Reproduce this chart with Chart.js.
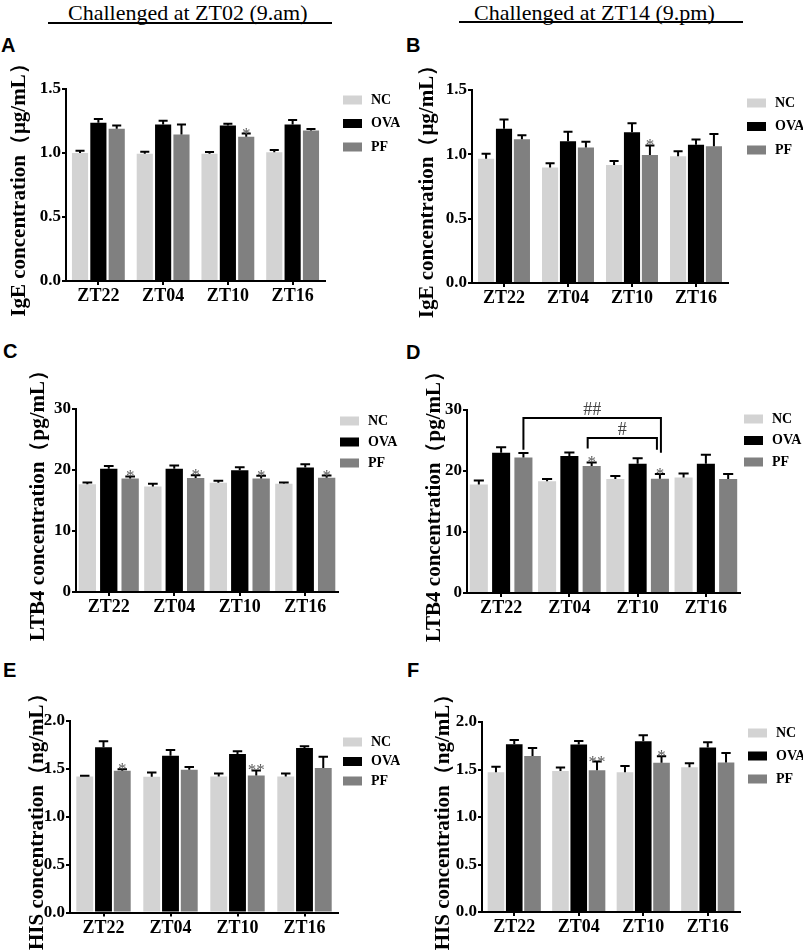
<!DOCTYPE html>
<html>
<head>
<meta charset="utf-8">
<script src="https://cdn.jsdelivr.net/npm/chart.js@4.4.0/dist/chart.umd.min.js"></script>
<style>
  body { margin: 0; background: #fff; width: 803px; height: 951px; position: relative; overflow: hidden; }
  .hd { position: absolute; top: 0; line-height: 22px; font: 22px "Liberation Serif", "Times New Roman", serif; color: #000; white-space: nowrap; }
  .rule { position: absolute; top: 22px; height: 2px; background: #000; }
  .tag { position: absolute; line-height: 20px; font: bold 20px "Liberation Sans", Arial, sans-serif; color: #000; }
  canvas { position: absolute; }
</style>
</head>
<body>
<div class="hd" style="left:68px">Challenged at ZT02 (9.am)</div>
<div class="rule" style="left:48px;width:284px"></div>
<div class="hd" style="left:474px">Challenged at ZT14 (9.pm)</div>
<div class="rule" style="left:459px;width:284px;top:21px"></div>
<div class="tag" style="left:1px;top:34px">A</div>
<div class="tag" style="left:406px;top:34px">B</div>
<div class="tag" style="left:3px;top:340px">C</div>
<div class="tag" style="left:406px;top:341px">D</div>
<div class="tag" style="left:3px;top:659px">E</div>
<div class="tag" style="left:407px;top:659px">F</div>
<script>
const timePoints = ['ZT22', 'ZT04', 'ZT10', 'ZT16'];
const groups = ['NC', 'OVA', 'PF'];
const groupColors = ['#d3d3d3', '#000000', '#808080'];

// rows: NC, OVA, PF
const igeAmMean = [[1.00, 0.995, 0.995, 1.005], [1.236, 1.222, 1.215, 1.222], [1.19, 1.144, 1.127, 1.175]];
const igeAmSem  = [[0.017, 0.015, 0.012, 0.018], [0.03, 0.03, 0.013, 0.036], [0.025, 0.078, 0.025, 0.013]];
const igeAmStars = ['', '', '*', ''];

const igePmMean = [[0.965, 0.897, 0.917, 0.985], [1.198, 1.102, 1.172, 1.074], [1.118, 1.053, 0.994, 1.063]];
const igePmSem  = [[0.04, 0.034, 0.031, 0.039], [0.072, 0.073, 0.07, 0.041], [0.03, 0.044, 0.075, 0.096]];
const igePmStars = ['', '', '*', ''];

const ltbAmMean = [[17.65, 17.3, 17.9, 17.75], [20.2, 20.2, 19.95, 20.4], [18.6, 18.7, 18.6, 18.75]];
const ltbAmSem  = [[0.3, 0.45, 0.33, 0.22], [0.45, 0.55, 0.5, 0.55], [0.35, 0.45, 0.44, 0.33]];
const ltbAmStars = ['*', '*', '*', '*'];

const ltbPmMean = [[17.8, 18.3, 18.7, 18.95], [23.0, 22.45, 21.2, 21.2], [22.2, 20.8, 18.75, 18.7]];
const ltbPmSem  = [[0.65, 0.4, 0.5, 0.65], [0.9, 0.6, 0.88, 1.48], [0.76, 0.6, 0.76, 0.8]];
const ltbPmStars = ['', '*', '*', ''];
// PF comparisons between time points
const ltbPmBrackets = [
  { label: '##', from: 0, to: 2, top: 28.7, legs: [23.5, 23.0] },
  { label: '#', from: 1, to: 2, top: 25.4, legs: [23.7, 23.5] }
];

const hisAmMean = [[1.42, 1.418, 1.42, 1.42], [1.725, 1.638, 1.655, 1.718], [1.481, 1.491, 1.432, 1.509]];
const hisAmSem  = [[0.007, 0.045, 0.031, 0.031], [0.063, 0.059, 0.028, 0.017], [0.014, 0.028, 0.052, 0.118]];
const hisAmStars = ['*', '', '**', ''];

const hisPmMean = [[1.472, 1.483, 1.472, 1.524], [1.766, 1.762, 1.797, 1.731], [1.643, 1.493, 1.57, 1.573]];
const hisPmSem  = [[0.056, 0.038, 0.066, 0.042], [0.045, 0.038, 0.063, 0.056], [0.084, 0.091, 0.07, 0.102]];
const hisPmStars = ['', '**', '*', ''];

const SERIF = '"Liberation Serif", "Times New Roman", serif';

// box = canvas [x, y, w, h]; area = plot [left, top, right, bottom] in page px
const panels = [
  { mean: igeAmMean, sem: igeAmSem, stars: igeAmStars, title: 'IgE concentration（μg/mL）', max: 1.5, step: 0.5, dec: 1,
    box: [0, 50, 400, 285], area: [66, 89, 325, 281], cat: 0.85, bar: 0.88, tpad: 7, legend: [18, 11, 23.5] },
  { mean: igePmMean, sem: igePmSem, stars: igePmStars, title: 'IgE concentration（μg/mL）', max: 1.5, step: 0.5, dec: 1,
    box: [400, 50, 403, 285], area: [472, 90, 728, 283], cat: 0.84, bar: 0.9, tpad: 15, legend: [19, 13, 23.5] },
  { mean: ltbAmMean, sem: ltbAmSem, stars: ltbAmStars, title: 'LTB4 concentration（pg/mL）', max: 30, step: 10, dec: 0,
    box: [0, 360, 400, 290], area: [76, 409, 338, 592], cat: 0.98, bar: 0.81, tpad: 26, legend: [2, 12, 21] },
  { mean: ltbPmMean, sem: ltbPmSem, stars: ltbPmStars, title: 'LTB4 concentration（pg/mL）', max: 30, step: 10, dec: 0,
    box: [400, 360, 403, 290], area: [467, 410, 740, 593], cat: 0.98, bar: 0.81, tpad: 22, legend: [4, 9, 21.5],
    brackets: ltbPmBrackets, bdx: [[0, 1], [-4, -3]] },
  { mean: hisAmMean, sem: hisAmSem, stars: hisAmStars, title: 'HIS concentration（ng/mL）', max: 2.0, step: 0.5, dec: 1,
    box: [0, 680, 400, 271], area: [70, 721, 338, 912.5], cat: 0.84, bar: 0.9, tpad: 25, legend: [5, 21, 19.5] },
  { mean: hisPmMean, sem: hisPmSem, stars: hisPmStars, title: 'HIS concentration（ng/mL）', max: 2.0, step: 0.5, dec: 1,
    box: [400, 680, 403, 271], area: [482, 722, 740, 912], cat: 0.85, bar: 0.91, tpad: 31, legend: [8, 11, 23] }
];

// error bars (upper only), stars, brackets and the side legend
function decor(p) {
  return {
    id: 'decor',
    afterDatasetsDraw(chart) {
      const { ctx, chartArea, scales: { y } } = chart;
      ctx.save();
      ctx.strokeStyle = '#000';
      ctx.lineWidth = 2;
      chart.data.datasets.forEach((ds, i) => {
        chart.getDatasetMeta(i).data.forEach((bar, j) => {
          const top = y.getPixelForValue(ds.data[j] + ds.errors[j]);
          const half = bar.width * 0.28;
          ctx.beginPath();
          ctx.moveTo(bar.x, bar.y);
          ctx.lineTo(bar.x, top);
          ctx.moveTo(bar.x - half, top);
          ctx.lineTo(bar.x + half, top);
          ctx.stroke();
          if (ds.stars && ds.stars[j]) {
            ctx.fillStyle = '#5a5a5a';
            ctx.font = '17px ' + SERIF;
            ctx.textAlign = 'center';
            ctx.textBaseline = 'alphabetic';
            ctx.fillText(ds.stars[j], bar.x, top + 5);
          }
        });
      });

      (p.brackets || []).forEach((br, k) => {
        const pf = chart.getDatasetMeta(2).data;
        const x1 = pf[br.from].x + p.bdx[k][0];
        const x2 = pf[br.to].x + p.bdx[k][1];
        const yt = y.getPixelForValue(br.top);
        ctx.beginPath();
        ctx.moveTo(x1, y.getPixelForValue(br.legs[0]));
        ctx.lineTo(x1, yt);
        ctx.lineTo(x2, yt);
        ctx.lineTo(x2, y.getPixelForValue(br.legs[1]));
        ctx.stroke();
        ctx.fillStyle = '#444';
        ctx.font = '18px ' + SERIF;
        ctx.textAlign = 'center';
        ctx.textBaseline = 'alphabetic';
        ctx.fillText(br.label, (x1 + x2) / 2, yt - 3);
      });

      const [dx, dy, gap] = p.legend;
      chart.data.datasets.forEach((ds, i) => {
        const ly = chartArea.top + dy + i * gap;
        const lx = chartArea.right + dx;
        ctx.fillStyle = ds.backgroundColor;
        ctx.fillRect(lx, ly - 4.5, 19, 9);
        ctx.fillStyle = '#000';
        ctx.font = 'bold 14px ' + SERIF;
        ctx.textAlign = 'left';
        ctx.textBaseline = 'middle';
        ctx.fillText(ds.label, lx + 28, ly);
      });
      ctx.restore();
    }
  };
}

panels.forEach(p => {
  const [bx, by, bw, bh] = p.box;
  const [l, t, r, b] = p.area;
  const xH = 30;
  const cv = document.createElement('canvas');
  cv.width = bw;
  cv.height = bh;
  cv.style.left = bx + 'px';
  cv.style.top = by + 'px';
  document.body.appendChild(cv);

  const axisGrid = { display: true, drawOnChartArea: false, drawTicks: true, tickLength: 4, lineWidth: 2, color: '#000' };

  new Chart(cv, {
    type: 'bar',
    data: {
      labels: timePoints,
      datasets: groups.map((g, i) => ({
        label: g,
        data: p.mean[i],
        errors: p.sem[i],
        stars: i === 2 ? p.stars : null,
        backgroundColor: groupColors[i],
        borderWidth: 0,
        categoryPercentage: p.cat,
        barPercentage: p.bar
      }))
    },
    options: {
      responsive: false,
      animation: false,
      layout: { padding: { left: 0, top: t - by, right: bx + bw - r, bottom: by + bh - b - xH } },
      plugins: { legend: { display: false }, tooltip: { enabled: false } },
      scales: {
        x: {
          afterFit: s => { s.height = xH; },
          grid: Object.assign({}, axisGrid, { offset: false }),
          border: { display: true, width: 2, color: '#000' },
          ticks: { color: '#000', padding: 1, maxRotation: 0, font: { family: SERIF, weight: 'bold', size: 18 } }
        },
        y: {
          min: 0,
          max: p.max,
          afterFit: s => { s.width = l - bx; },
          grid: axisGrid,
          border: { display: true, width: 2, color: '#000' },
          ticks: {
            stepSize: p.step, color: '#000', padding: 1,
            font: { family: SERIF, weight: 'bold', size: 17 },
            callback: v => v.toFixed(p.dec)
          },
          title: {
            display: true, text: p.title, color: '#000',
            font: { family: SERIF, weight: 'bold', size: 21 },
            padding: { top: p.tpad, bottom: 0 }
          }
        }
      }
    },
    plugins: [decor(p)]
  });
});
</script>
</body>
</html>
